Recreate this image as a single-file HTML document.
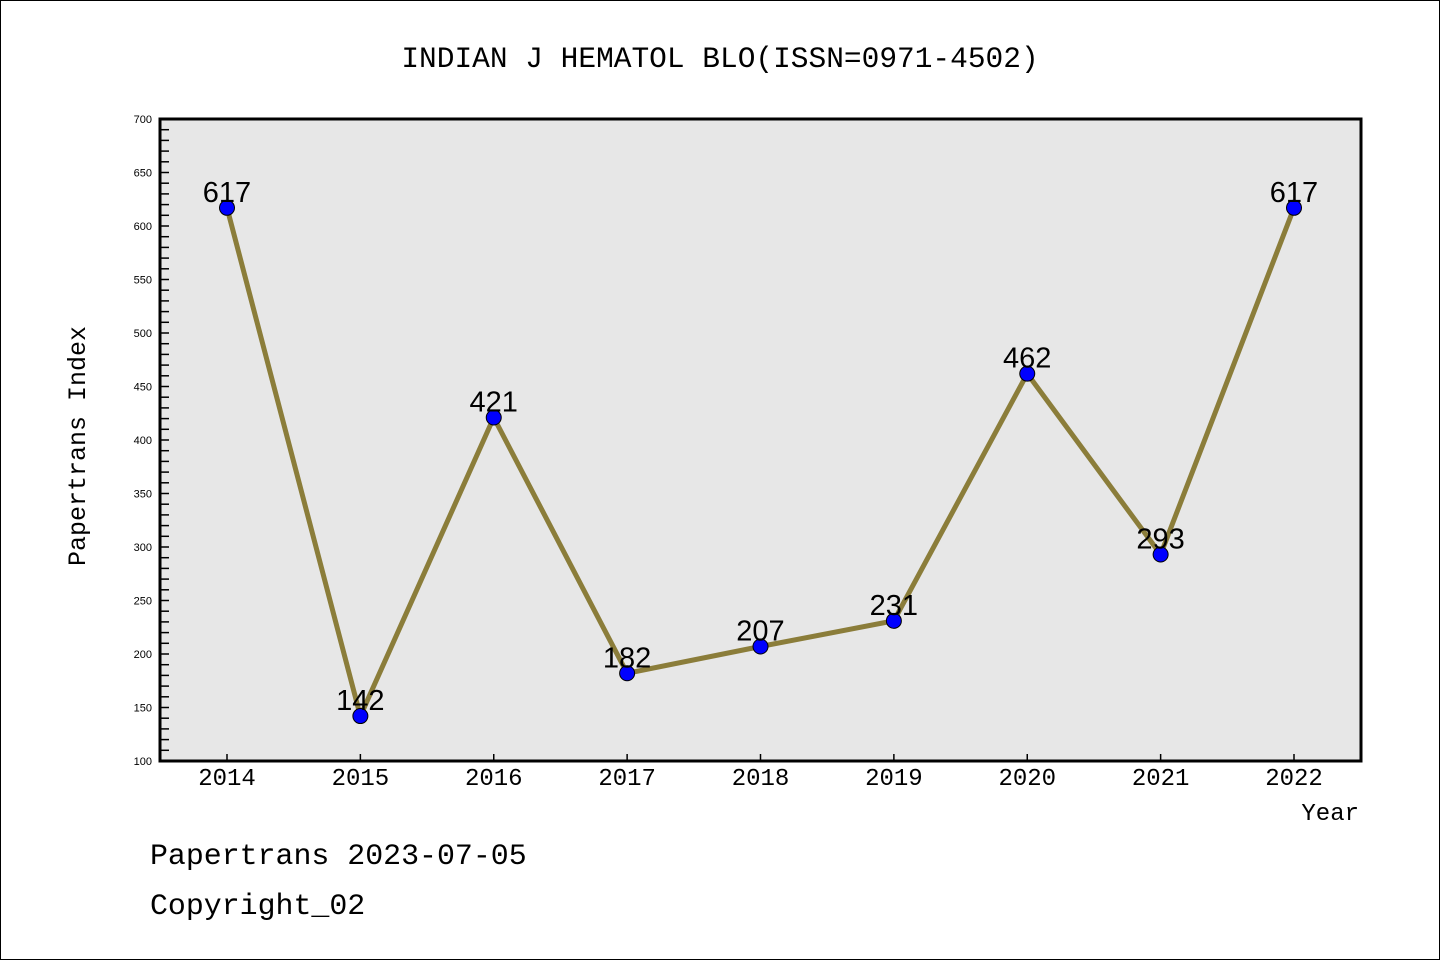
<!DOCTYPE html>
<html><head><meta charset="utf-8"><style>
html,body{margin:0;padding:0;background:#fff;}
svg{display:block;}
text{font-family:"Liberation Mono","WenQuanYi Zen Hei",monospace;fill:#000;}
</style></head><body>
<svg id="chart" width="1440" height="960" xmlns="http://www.w3.org/2000/svg">
<rect x="0.5" y="0.5" width="1439" height="959" fill="#fff" stroke="#000" stroke-width="1"/>
<text x="720" y="67" font-size="29.5" text-anchor="middle">INDIAN J HEMATOL BLO(ISSN=0971-4502)</text>
<rect x="160" y="119" width="1201" height="642" fill="#e7e7e7"/>
<g id="ticks"></g>
<g id="series"></g>
<rect x="160" y="119" width="1201" height="642" fill="none" stroke="#000" stroke-width="3"/>
<text transform="translate(85,446) rotate(-90)" font-size="25" text-anchor="middle">Papertrans Index</text>
<text x="1359" y="820" font-size="24" text-anchor="end">Year</text>
<text x="150" y="864" font-size="29.9">Papertrans 2023-07-05</text>
<text x="150" y="914" font-size="29.9">Copyright_02</text>
</svg>
<script>
const years = ["2014","2015","2016","2017","2018","2019","2020","2021","2022"];
const values = [617,142,421,182,207,231,462,293,617];
const yTicks = [100,150,200,250,300,350,400,450,500,550,600,650,700];
const NS="http://www.w3.org/2000/svg";
const X0=227,X1=1294,YT=119,YB=761,VMIN=100,VMAX=700;
function xs(i){return X0+(X1-X0)*i/(years.length-1);}
function ys(v){return YB-(v-VMIN)/(VMAX-VMIN)*(YB-YT);}
function mk(tag,attrs,parent){const e=document.createElementNS(NS,tag);for(const k in attrs)e.setAttribute(k,attrs[k]);parent.appendChild(e);return e;}
const tg=document.getElementById('ticks');
for(let v=VMIN;v<=VMAX;v+=10){
  const l=mk('line',{x1:160,x2:169,y1:ys(v),y2:ys(v),stroke:'#000','stroke-width':1.5},tg);
  
  
}
yTicks.forEach(v=>{
  const t=mk('text',{x:152,y:ys(v)+4,'font-size':11,'text-anchor':'end','style':'font-family:"Liberation Sans",sans-serif'},tg);
  t.textContent=v;
  
  
});
years.forEach((y,i)=>{
  const l=mk('line',{x1:xs(i),x2:xs(i),y1:YB,y2:YB-7,stroke:'#000','stroke-width':1.5},tg);
  
  
  const t=mk('text',{x:xs(i),y:785,'font-size':24,'text-anchor':'middle'},tg);
  t.textContent=y;
  
  
});
const sg=document.getElementById('series');
const pl=mk('polyline',{points:values.map((v,i)=>xs(i)+','+ys(v)).join(' '),fill:'none',stroke:'#8b7d3a','stroke-width':5,'stroke-linejoin':'round'},sg);


values.forEach((v,i)=>{
  const c=mk('circle',{cx:xs(i),cy:ys(v),r:7.5,fill:'#0000ff',stroke:'#000','stroke-width':1},sg);
  
  
});
values.forEach((v,i)=>{
  const t=mk('text',{x:xs(i),y:ys(v)-6,'font-size':29,'text-anchor':'middle','style':'font-family:"Liberation Sans",sans-serif'},sg);
  t.textContent=v;
  
  
});
</script>
</body></html>
